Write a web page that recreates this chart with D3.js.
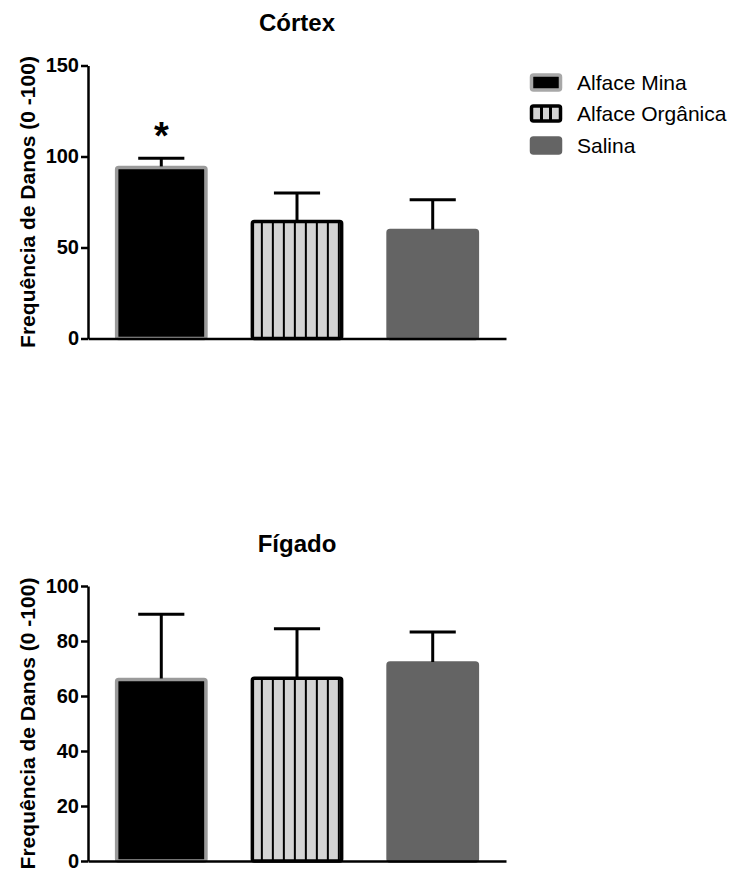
<!DOCTYPE html>
<html>
<head>
<meta charset="utf-8">
<script src="https://cdn.jsdelivr.net/npm/d3@7"></script>
<style>
  body { margin: 0; background: #fff; }
  svg { display: block; font-family: "Liberation Sans", Arial, sans-serif; }
</style>
</head>
<body>
<div id="container"></div>
<script>
// data
const groups = ["Alface Mina", "Alface Orgânica", "Salina"];

const cortexMean = [94, 64.3, 59.3];
const cortexSem = [5, 15.7, 17];
const cortexTicks = [0, 50, 100, 150];

const figadoMean = [66, 66.5, 72];
const figadoSem = [23.7, 18, 11.3];
const figadoTicks = [0, 20, 40, 60, 80, 100];

const width = 742, height = 882;

const svg = d3.select("#container")
  .append("svg")
  .attr("width", width)
  .attr("height", height);

// stripe pattern for Alface Orgânica
const defs = svg.append("defs");
function stripes(id, x0) {
  const p = defs.append("pattern")
    .attr("id", id)
    .attr("patternUnits", "userSpaceOnUse")
    .attr("x", x0)
    .attr("y", 0)
    .attr("width", 11)
    .attr("height", 10);
  p.append("rect").attr("width", 11).attr("height", 10).attr("fill", "#d4d4d4");
  p.append("rect").attr("x", 9).attr("width", 3).attr("height", 10).attr("fill", "#000");
}

const barStyle = [
  { fill: "#000", stroke: "#9a9a9a" },
  { fill: null, stroke: "#000" },
  { fill: "#646464", stroke: "#646464" }
];

function drawPanel(opt) {
  const g = svg.append("g");

  const x = d3.scaleBand()
    .domain(groups)
    .range([88, 506])
    .paddingInner(0.32)
    .paddingOuter(0.2);

  const y = d3.scaleLinear()
    .domain([0, opt.max])
    .range([opt.y0, opt.yTop]);

  stripes(opt.id + "-stripe", x(groups[1]) + 1);

  // bars
  g.selectAll(".bar")
    .data(groups)
    .join("rect")
    .attr("class", "bar")
    .attr("x", d => x(d) + 1.5)
    .attr("width", x.bandwidth() - 3)
    .attr("y", (d, i) => y(opt.mean[i]))
    .attr("height", (d, i) => y(0) - y(opt.mean[i]))
    .attr("rx", 2)
    .attr("fill", (d, i) => i === 1 ? `url(#${opt.id}-stripe)` : barStyle[i].fill)
    .attr("stroke", (d, i) => barStyle[i].stroke)
    .attr("stroke-width", 3.5);

  // error bars (upper only)
  const err = g.selectAll(".err")
    .data(groups)
    .join("g")
    .attr("class", "err")
    .attr("stroke", "#000")
    .attr("stroke-width", 3);
  err.append("line")
    .attr("x1", d => x(d) + x.bandwidth() / 2)
    .attr("x2", d => x(d) + x.bandwidth() / 2)
    .attr("y1", (d, i) => y(opt.mean[i]) - 1)
    .attr("y2", (d, i) => y(opt.mean[i] + opt.sem[i]));
  err.append("line")
    .attr("x1", d => x(d) + x.bandwidth() / 4)
    .attr("x2", d => x(d) + x.bandwidth() * 3 / 4)
    .attr("y1", (d, i) => y(opt.mean[i] + opt.sem[i]))
    .attr("y2", (d, i) => y(opt.mean[i] + opt.sem[i]));

  // axes
  const yAxis = g.append("g")
    .attr("transform", "translate(88,0)")
    .call(d3.axisLeft(y).tickValues(opt.ticks).tickSize(7).tickSizeOuter(0).tickPadding(2));
  const xAxis = g.append("g")
    .attr("transform", `translate(0,${opt.y0})`)
    .call(d3.axisBottom(x).tickSize(0).tickFormat(""));

  [yAxis, xAxis].forEach(a => {
    a.select(".domain").attr("stroke", "#000").attr("stroke-width", 2.5);
    a.selectAll(".tick line").attr("stroke", "#000").attr("stroke-width", 2.5);
  });
  yAxis.selectAll(".tick text")
    .attr("fill", "#000")
    .style("font-size", "20px")
    .style("font-weight", "bold")
    .style("font-family", "'Liberation Sans', Arial, sans-serif");

  // title
  g.append("text")
    .attr("x", 297)
    .attr("y", opt.titleY)
    .attr("text-anchor", "middle")
    .style("font-size", "24px")
    .style("font-weight", "bold")
    .text(opt.title);

  // y label
  g.append("text")
    .attr("transform", `translate(35,${(opt.y0 + opt.yTop) / 2}) rotate(-90)`)
    .attr("text-anchor", "middle")
    .style("font-size", "21px")
    .style("font-weight", "bold")
    .text("Frequência de Danos (0 -100)");

  return { x, y, g };
}

const cortex = drawPanel({
  id: "cortex", title: "Córtex", titleY: 31,
  mean: cortexMean, sem: cortexSem, ticks: cortexTicks,
  max: 150, y0: 338.5, yTop: 65.5
});

// significance mark
cortex.g.append("text")
  .attr("x", cortex.x(groups[0]) + cortex.x.bandwidth() / 2)
  .attr("y", cortex.y(cortexMean[0] + cortexSem[0]) - 9)
  .attr("text-anchor", "middle")
  .style("font-size", "38px")
  .style("font-weight", "bold")
  .text("*");

drawPanel({
  id: "figado", title: "Fígado", titleY: 552,
  mean: figadoMean, sem: figadoSem, ticks: figadoTicks,
  max: 100, y0: 861, yTop: 586
});

// legend
const legend = svg.append("g").attr("transform", "translate(530,0)");
const rowY = [82.5, 113.5, 145.5];
const lg = legend.selectAll(".lg")
  .data(groups)
  .join("g")
  .attr("class", "lg")
  .attr("transform", (d, i) => `translate(0,${rowY[i]})`);

lg.append("rect")
  .attr("x", 1.5)
  .attr("y", -7.5)
  .attr("width", 29)
  .attr("height", 15)
  .attr("rx", 2)
  .attr("fill", (d, i) => i === 1 ? "#d4d4d4" : barStyle[i].fill)
  .attr("stroke", (d, i) => i === 0 ? "#a8a8a8" : barStyle[i].stroke)
  .attr("stroke-width", 3.5);

// dividers in the striped swatch
legend.append("g")
  .attr("transform", `translate(0,${rowY[1]})`)
  .selectAll("line")
  .data([11.5, 20.5])
  .join("line")
  .attr("x1", d => d).attr("x2", d => d)
  .attr("y1", -7).attr("y2", 7)
  .attr("stroke", "#000").attr("stroke-width", 3);

lg.append("text")
  .attr("x", 47)
  .attr("y", 7.5)
  .style("font-size", "21px")
  .text(d => d);
</script>
</body>
</html>
